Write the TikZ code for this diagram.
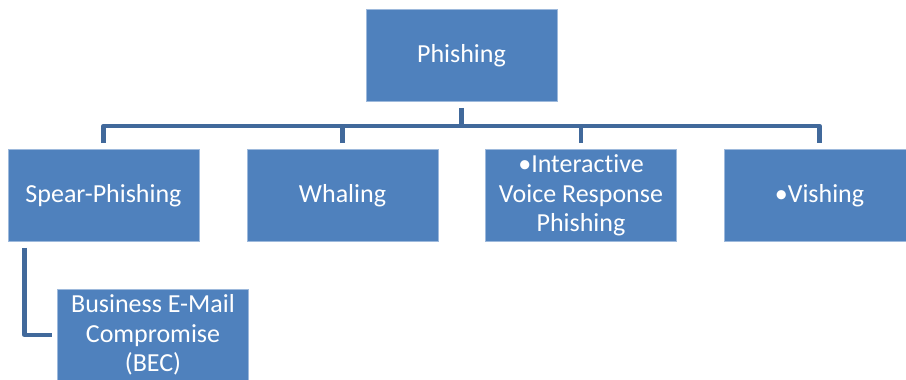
\documentclass[tikz,border=0pt]{standalone}
\usepackage{fontspec}
\setmainfont{Carlito}[Ligatures={NoCommon,NoRare}]
\definecolor{boxfill}{HTML}{4F81BD}
\definecolor{boxedge}{HTML}{9DB9DC}
\definecolor{linkcol}{HTML}{41699B}
\begin{document}
\begin{tikzpicture}[x=1pt,y=-1pt,
  card/.style={rectangle, fill=boxfill, draw=boxedge, line width=0.6pt,
    minimum width=191pt, minimum height=92pt, inner sep=2pt,
    text=white, align=center, font=\fontsize{26}{29.5}\selectfont},
  conn/.style={draw=linkcol, line width=4.5pt, line join=round, line cap=butt}]
\useasboundingbox (0,0) rectangle (906,380);

\node[card] (phishing) at (461.5,55.5) {Phishing};
\node[card] (spear)    at (103.5,195.5) {Spear-Phishing};
\node[card] (whaling)  at (342.5,195.5) {Whaling};
\node[card] (ivr)      at (581,195.5) {•Interactive\\Voice Response\\Phishing};
\node[card] (vishing)  at (819.5,195.5) {•Vishing};
\node[card] (bec)      at (153,335) {Business E-Mail\\Compromise\\(BEC)};

\coordinate (bus) at (0,126);

% bus line with the drops to the second row
\draw[conn] ([yshift=6pt]spear.north) -- (spear.north |- bus)
  -- (vishing.north |- bus) -- ([yshift=6pt]vishing.north);
\draw[conn] ([yshift=-6pt]phishing.south) -- (phishing.south |- bus);
\draw[conn] ([yshift=6pt]whaling.north) -- (whaling.north |- bus);
\draw[conn] ([yshift=6pt]ivr.north) -- (ivr.north |- bus);

% elbow from Spear-Phishing to its child
\draw[conn] ([xshift=17pt,yshift=-6pt]spear.south west) |- ([xshift=-5pt]bec.west);
\end{tikzpicture}
\end{document}
